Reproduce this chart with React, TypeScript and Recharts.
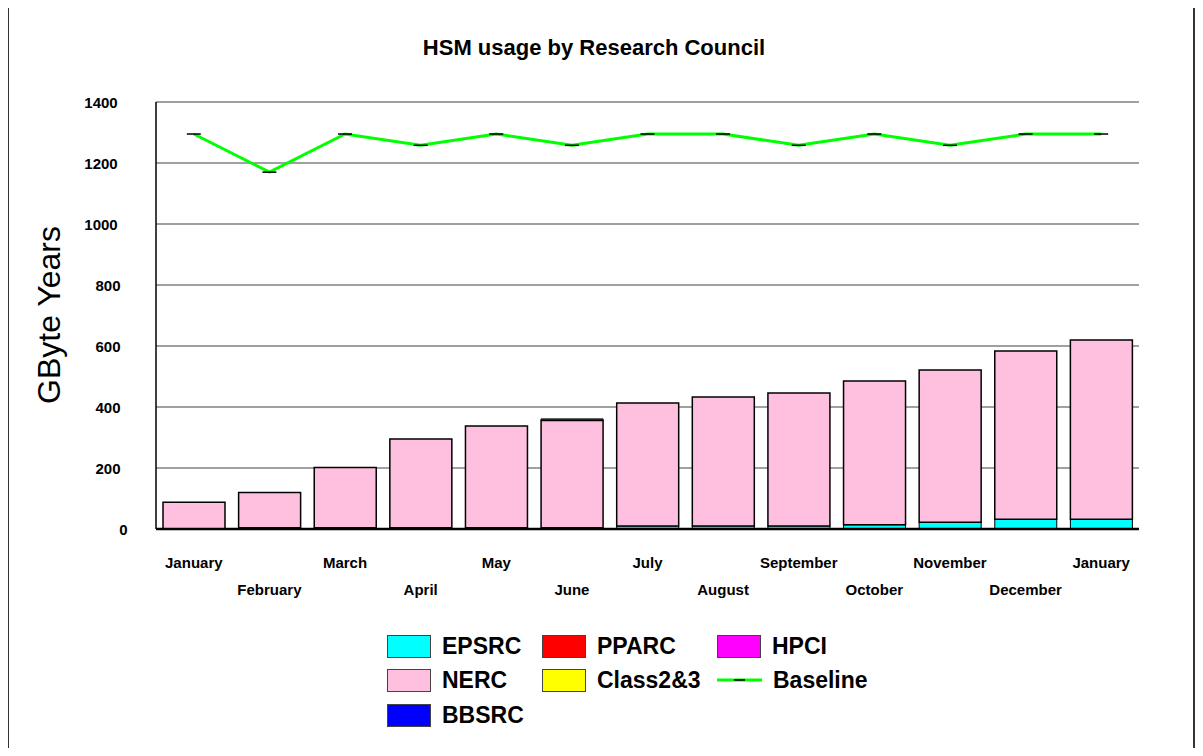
import React from 'react';
import { ComposedChart, Bar, Line, XAxis, YAxis, CartesianGrid, Label } from 'recharts';

const months = ['January', 'February', 'March', 'April', 'May', 'June', 'July', 'August', 'September', 'October', 'November', 'December', 'January'];
const epsrc = [0, 4, 4, 4, 4, 4, 10, 10, 10, 14, 22, 32, 32];
const nerc = [88, 116, 198, 291, 334, 352, 403, 423, 436, 471, 499, 552, 588];
const bbsrc = [0, 0, 0, 0, 0, 0, 0, 0, 0, 0, 0, 0, 0];
const pparc = [0, 0, 0, 0, 0, 2, 0, 0, 0, 0, 0, 0, 0];
const class23 = [0, 0, 0, 0, 0, 3, 0, 0, 0, 0, 0, 0, 0];
const hpci = [0, 0, 0, 0, 0, 0, 0, 0, 0, 0, 0, 0, 0];
const baseline = [1295, 1170, 1295, 1258, 1295, 1258, 1295, 1295, 1258, 1295, 1258, 1295, 1295];
const yTicks = [0, 200, 400, 600, 800, 1000, 1200, 1400];

const data = months.map((m, i) => ({
  month: m,
  EPSRC: epsrc[i],
  NERC: nerc[i],
  BBSRC: bbsrc[i],
  PPARC: pparc[i],
  Class23: class23[i],
  HPCI: hpci[i],
  Baseline: baseline[i],
}));

const FONT = 'Arial, "Liberation Sans", Helvetica, sans-serif';

const XTick = (props: any) => {
  const { x, y, payload, index } = props;
  const dy = index % 2 === 0 ? 25 : 52;
  return (
    <text x={x} y={y + dy} textAnchor="middle" dominantBaseline="central" fontFamily={FONT} fontWeight="bold" fontSize={15} fill="#000">
      {payload.value}
    </text>
  );
};

const YTick = (props: any) => {
  const { y, payload } = props;
  const s = String(payload.value);
  const cx = s.length >= 4 ? 93 : s.length === 3 ? 100 : 115.5;
  return (
    <text x={cx} y={y} textAnchor="middle" dominantBaseline="central" fontFamily={FONT} fontWeight="bold" fontSize={15} fill="#000">
      {s}
    </text>
  );
};

const Dash = (props: any) => {
  const { cx, cy, index } = props;
  return <line key={`d${index}`} x1={cx - 7} x2={cx + 7} y1={cy} y2={cy} stroke="#000" strokeWidth={1.5} />;
};

const legendItems = [
  { name: 'EPSRC', color: '#00FFFF', col: 0, row: 0 },
  { name: 'PPARC', color: '#FF0000', col: 1, row: 0 },
  { name: 'HPCI', color: '#FF00FF', col: 2, row: 0 },
  { name: 'NERC', color: '#FFC0E0', col: 0, row: 1 },
  { name: 'Class2&3', color: '#FFFF00', col: 1, row: 1 },
  { name: 'Baseline', color: '#00FF00', col: 2, row: 1, line: true },
  { name: 'BBSRC', color: '#0000FF', col: 0, row: 2 },
];
const colX = [379, 534, 709];
const rowY = [626, 660, 695];

export default function App() {
  return (
    <div style={{ position: 'relative', width: 1187, height: 740, fontFamily: FONT }}>
      <div style={{ position: 'absolute', left: -1, top: -2, width: 1188, height: 748, borderLeft: '2px solid #333', borderTop: '2px solid #333', borderRight: '2px solid #333', boxSizing: 'border-box' }} />
      <div style={{ position: 'absolute', left: 336, width: 500, top: 26, textAlign: 'center', fontWeight: 'bold', fontSize: 22, lineHeight: '28px', color: '#000' }}>
        HSM usage by Research Council
      </div>
      <div style={{ position: 'absolute', left: 0, top: 0 }}>
        <ComposedChart width={1187} height={740} data={data} margin={{ top: 94, right: 56, bottom: 159, left: 88 }} barSize={62}>
          <CartesianGrid horizontal vertical={false} stroke="#808080" strokeWidth={1.5} />
          <XAxis dataKey="month" height={60} tickLine={false} axisLine={{ stroke: '#000', strokeWidth: 2.5 }} tick={<XTick />} interval={0} />
          <YAxis width={60} domain={[0, 1400]} ticks={yTicks} tickLine={false} axisLine={{ stroke: '#000', strokeWidth: 1.5 }} tick={<YTick />} interval={0}>
            <Label content={() => (
              <text x={41} y={307} transform="rotate(-90 41 307)" textAnchor="middle" dominantBaseline="central" fontFamily={FONT} fontSize={32} fill="#000">
                GByte Years
              </text>
            )} />
          </YAxis>
          <YAxis yAxisId="r" orientation="right" width={0} domain={[0, 1400]} tick={false} tickLine={false} axisLine={{ stroke: '#000', strokeWidth: 1.5 }} />
          <XAxis xAxisId="top" orientation="top" dataKey="month" height={0} tick={false} tickLine={false} axisLine={{ stroke: '#000', strokeWidth: 2 }} />
          <Bar dataKey="EPSRC" stackId="a" fill="#00FFFF" stroke="#000" strokeWidth={1} isAnimationActive={false} />
          <Bar dataKey="NERC" stackId="a" fill="#FFC0E0" stroke="#000" strokeWidth={1.5} isAnimationActive={false} />
          <Bar dataKey="BBSRC" stackId="a" fill="#0000FF" stroke="#000" strokeWidth={1} isAnimationActive={false} />
          <Bar dataKey="PPARC" stackId="a" fill="#FF0000" stroke="#000" strokeWidth={1} isAnimationActive={false} />
          <Bar dataKey="Class23" stackId="a" fill="#FFFF00" stroke="#000" strokeWidth={1} isAnimationActive={false} />
          <Bar dataKey="HPCI" stackId="a" fill="#FF00FF" stroke="#000" strokeWidth={1} isAnimationActive={false} />
          <Line dataKey="Baseline" type="linear" stroke="#00FF00" strokeWidth={3} dot={<Dash />} activeDot={false} isAnimationActive={false} />
        </ComposedChart>
      </div>
      {legendItems.map((it) => (
        <div key={it.name} style={{ position: 'absolute', left: colX[it.col], top: rowY[it.row], height: 24, display: 'flex', alignItems: 'center' }}>
          {it.line ? (
            <svg width={45} height={24} style={{ display: 'block' }}>
              <line x1={0} x2={45} y1={12} y2={12} stroke={it.color} strokeWidth={3} />
              <line x1={17} x2={28} y1={12} y2={12} stroke="#000" strokeWidth={1.5} />
            </svg>
          ) : (
            <div style={{ width: 44, height: 23, background: it.color, border: '1px solid #444', boxSizing: 'border-box' }} />
          )}
          <span style={{ marginLeft: 11, fontWeight: 'bold', fontSize: 23, color: '#000', lineHeight: '24px' }}>{it.name}</span>
        </div>
      ))}
    </div>
  );
}
